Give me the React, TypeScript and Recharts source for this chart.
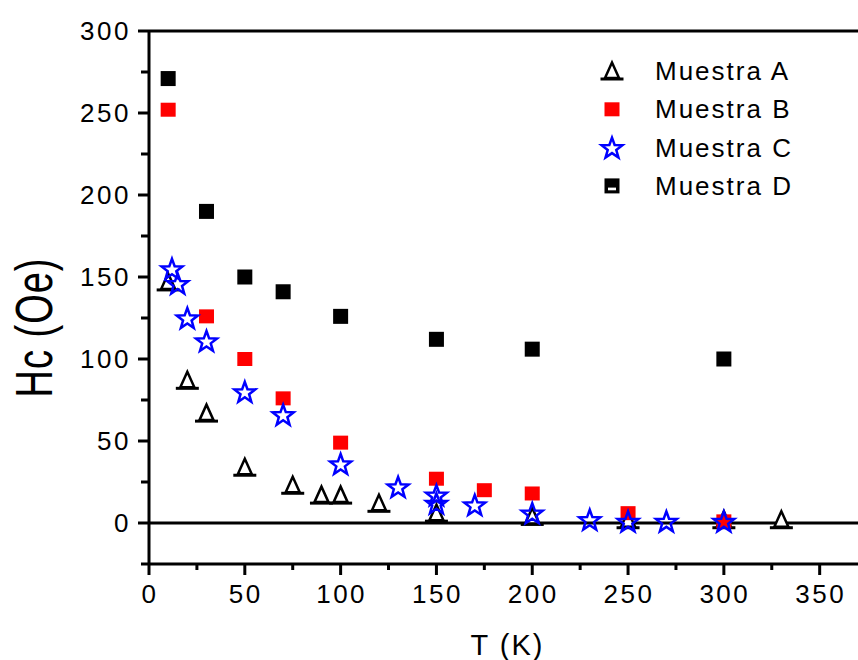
import { ScatterChart, Scatter, XAxis, YAxis, ReferenceLine, Legend } from "recharts"

// Hc vs T
const tempA = [10, 20, 30, 50, 75, 90, 100, 120, 150, 200, 250, 300, 330]
const hcA   = [147, 87, 67, 34, 23, 17, 17, 12, 6, 4, 2, 2, 2]
const tempB = [10, 30, 50, 70, 100, 150, 175, 200, 250, 300]
const hcB   = [252, 126, 100, 76, 49, 27, 20, 18, 6, 1]
const tempC = [12, 15, 20, 30, 50, 70, 100, 130, 150, 150, 170, 200, 230, 250, 270, 300]
const hcC   = [155, 146, 125, 111, 80, 66, 36, 22, 17, 12, 11, 6, 2, 1, 1, 1]
const tempD = [10, 30, 50, 70, 100, 150, 200, 300]
const hcD   = [271, 190, 150, 141, 126, 112, 106, 100]

const seriesNames = ["Muestra A", "Muestra B", "Muestra C", "Muestra D"]
const xTicks = [0, 25, 50, 75, 100, 125, 150, 175, 200, 225, 250, 275, 300, 325, 350]
const yTicks = [-25, 0, 25, 50, 75, 100, 125, 150, 175, 200, 225, 250, 275, 300]

const toPoints = (ts: number[], hs: number[]) => ts.map((t, i) => ({ t, hc: hs[i] }))
const pointsA = toPoints(tempA, hcA)
const pointsB = toPoints(tempB, hcB)
const pointsC = toPoints(tempC, hcC)
const pointsD = toPoints(tempD, hcD)

const FONT = "'Liberation Sans', Arial, sans-serif"
const RED = "#ff0000"
const BLUE = "#0000ff"

function Triangle({ cx, cy }: any) {
  return (
    <g>
      <path d={`M${cx},${cy - 8.5} L${cx - 7},${cy + 7} L${cx + 7},${cy + 7} Z`}
        fill="#fff" stroke="#000" strokeWidth={2.5} />
      <line x1={cx - 11.5} x2={cx + 11.5} y1={cy + 8} y2={cy + 8} stroke="#000" strokeWidth={3} />
    </g>
  )
}

function RedSquare({ cx, cy }: any) {
  return <rect x={cx - 7.5} y={cy - 7} width={15} height={14} fill={RED} />
}

function Star({ cx, cy }: any) {
  const pts: string[] = []
  for (let i = 0; i < 10; i++) {
    const r = i % 2 === 0 ? 11 : 4.5
    const a = -Math.PI / 2 + (i * Math.PI) / 5
    pts.push(`${cx + r * Math.cos(a)},${cy + 1 + r * Math.sin(a)}`)
  }
  return <polygon points={pts.join(" ")} fill="none" stroke={BLUE} strokeWidth={2.5} />
}

function BlackSquare({ cx, cy, dash }: any) {
  return (
    <g>
      <rect x={cx - 7.5} y={cy - 7.5} width={15} height={15} fill="#000" />
      {dash && <rect x={cx - 4} y={cy + 1.7} width={8} height={2.7} fill="#fff" />}
    </g>
  )
}

const markers = [Triangle, RedSquare, Star, BlackSquare]

function YTick({ x, y, payload }: any) {
  const major = payload.value % 50 === 0
  return (
    <g>
      <line x1={x - (major ? 11 : 8)} x2={x} y1={y} y2={y} stroke="#000" strokeWidth={3} />
      {major && (
        <text x={x - 18} y={y} textAnchor="end" dominantBaseline="central"
          fontFamily={FONT} fontSize={26} letterSpacing={2.5} fill="#000">
          {payload.value}
        </text>
      )}
    </g>
  )
}

function XTick({ x, y, payload }: any) {
  const major = payload.value % 50 === 0
  return (
    <g>
      <line x1={x} x2={x} y1={y} y2={y + (major ? 11 : 6)} stroke="#000" strokeWidth={3} />
      {major && (
        <text x={x + 1} y={y + 39} textAnchor="middle"
          fontFamily={FONT} fontSize={26} letterSpacing={2.5} fill="#000">
          {payload.value}
        </text>
      )}
    </g>
  )
}

function XTitle({ viewBox }: any) {
  const { x, y, width } = viewBox
  return (
    <text x={x + width / 2 + 4} y={y + 91} textAnchor="middle"
      fontFamily={FONT} fontSize={29} letterSpacing={2} fill="#000">
      T (K)
    </text>
  )
}

function YTitle({ viewBox }: any) {
  const { y, height } = viewBox
  const cy = y + height / 2 + 30
  return (
    <text transform={`translate(34,${cy}) rotate(-90) scale(1,1.35)`}
      textAnchor="middle" dominantBaseline="central"
      fontFamily={FONT} fontSize={38} letterSpacing={1} fill="#000">
      Hc (Oe)
    </text>
  )
}

function LegendBox({ payload }: any) {
  const items = (payload ?? []).slice().sort(
    (a: any, b: any) => seriesNames.indexOf(a.value) - seriesNames.indexOf(b.value),
  )
  return (
    <svg width={250} height={160}>
      {items.map((item: any, i: number) => {
        const Mark = markers[seriesNames.indexOf(item.value)]
        const cy = 19 + i * 38.3
        return (
          <g key={item.value}>
            <Mark cx={22} cy={cy} dash />
            <text x={65} y={cy} dominantBaseline="central"
              fontFamily={FONT} fontSize={26} letterSpacing={2} fill="#000">
              {item.value}
            </text>
          </g>
        )
      })}
    </svg>
  )
}

export default function App() {
  return (
    <div style={{ position: "absolute", left: 0, top: 0, width: 858, height: 660, background: "#fff" }}>
      <ScatterChart width={858} height={660} margin={{ top: 31, right: 0, bottom: 0, left: 0 }}>
        <XAxis
          type="number" dataKey="t" domain={[0, 370]} ticks={xTicks} interval={0}
          height={96} tickSize={0} tickMargin={0} tick={<XTick />}
          axisLine={{ stroke: "#000", strokeWidth: 3 }} allowDataOverflow
          label={<XTitle />}
        />
        <YAxis
          type="number" dataKey="hc" domain={[-25, 300]} ticks={yTicks} interval={0}
          width={149} tickSize={0} tickMargin={0} tick={<YTick />}
          axisLine={{ stroke: "#000", strokeWidth: 3 }} allowDataOverflow
          label={<YTitle />}
        />
        <ReferenceLine y={300} stroke="#000" strokeWidth={3} />
        <ReferenceLine y={0} stroke="#000" strokeWidth={3} />
        <Legend
          layout="vertical" align="center" verticalAlign="middle"
          content={<LegendBox />}
          wrapperStyle={{ left: 590, top: 52, width: 250, height: 160 }}
        />
        <Scatter name="Muestra A" data={pointsA} fill="#000" shape={(p: any) => <Triangle {...p} />} isAnimationActive={false} />
        <Scatter name="Muestra B" data={pointsB} fill={RED} shape={(p: any) => <RedSquare {...p} />} isAnimationActive={false} />
        <Scatter name="Muestra C" data={pointsC} fill={BLUE} shape={(p: any) => <Star {...p} />} isAnimationActive={false} />
        <Scatter name="Muestra D" data={pointsD} fill="#000" shape={(p: any) => <BlackSquare {...p} />} isAnimationActive={false} />
      </ScatterChart>
    </div>
  )
}
